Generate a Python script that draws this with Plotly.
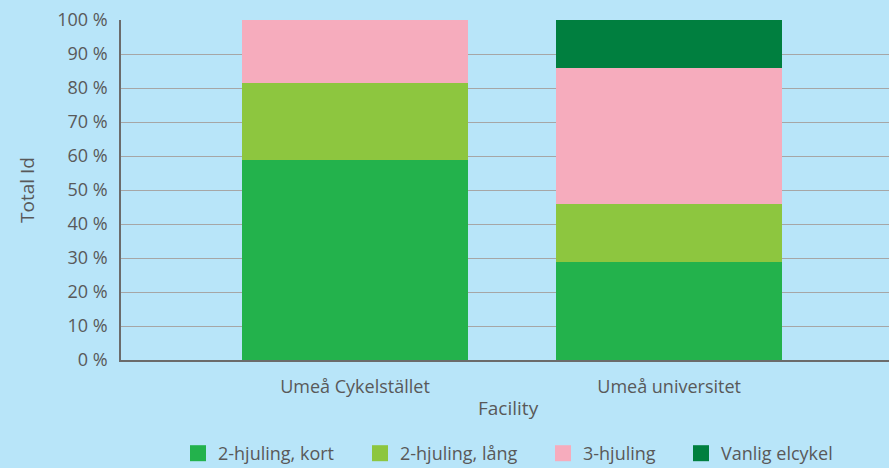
import plotly.graph_objects as go

facilities = ["Umeå Cykelstället", "Umeå universitet"]
series = ["2-hjuling, kort", "2-hjuling, lång", "3-hjuling", "Vanlig elcykel"]
kort = [58.8, 28.8]
lang = [22.6, 17.0]
tre = [18.6, 40.0]
vanlig = [0.0, 14.2]
values = [kort, lang, tre, vanlig]
colors = ["#23B24C", "#8DC63F", "#F6ACBD", "#007F3F"]
yticks = [0, 10, 20, 30, 40, 50, 60, 70, 80, 90, 100]

grey = "#595959"
bg = "#B8E5F9"
font = "Open Sans"
L, W = 121, 768
H = 472  # slightly taller than the window so the legend sits low, as in the original

fig = go.Figure()
for name, vals, col in zip(series, values, colors):
    fig.add_trace(go.Bar(x=facilities, y=vals, name=name, marker_color=col,
                         marker_line_width=0, width=0.72, showlegend=False))

# one legend per series so the entries sit where the reference has them
leg_px = [178, 360, 543, 681]
legends = {}
for i, (name, col, px) in enumerate(zip(series, colors, leg_px)):
    key = "legend" if i == 0 else f"legend{i + 1}"
    fig.add_trace(go.Scatter(x=[None], y=[None], mode="markers", name=name,
                             legend=key,
                             marker=dict(symbol="square", size=20, color=col)))
    legends[key] = dict(x=(px - L) / W, xanchor="left", y=-(H - 360) / 340,
                        yanchor="bottom", font=dict(size=18, color=grey),
                        itemsizing="trace", bgcolor="rgba(0,0,0,0)")

fig.update_layout(
    width=889, height=H,
    barmode="stack",
    paper_bgcolor=bg, plot_bgcolor=bg,
    margin=dict(l=L, r=0, t=20, b=H - 360),
    font=dict(family=font, size=18, color=grey),
    xaxis=dict(type="category", range=[-0.745, 1.70], showgrid=False,
               showline=True, linecolor="#6B6B6B", linewidth=1.5,
               ticks="", ticklabelstandoff=10, tickfont=dict(size=18, color=grey)),
    yaxis=dict(range=[0, 100], tickvals=yticks, ticktext=[f"{v} %" for v in yticks],
               showgrid=True, gridcolor="#A6A6A6", gridwidth=1,
               showline=True, linecolor="#6B6B6B", linewidth=1.5, zeroline=False,
               ticks="", ticklabelstandoff=8, tickfont=dict(size=18, color=grey)),
    annotations=[
        dict(text="Total Id", x=(27 - L) / W, xref="paper", y=0.5, yref="paper",
             textangle=-90, showarrow=False, font=dict(size=19, color=grey),
             xanchor="center", yanchor="middle"),
        dict(text="Facility", x=0.505, xref="paper", y=-(408 - 360) / 340, yref="paper",
             showarrow=False, font=dict(size=19, color=grey),
             xanchor="center", yanchor="middle"),
    ],
    **legends,
)

fig.write_html("out.html", config={"displayModeBar": False},
               post_script="document.body.style.margin='0';"
                           "document.body.style.overflow='hidden';")
